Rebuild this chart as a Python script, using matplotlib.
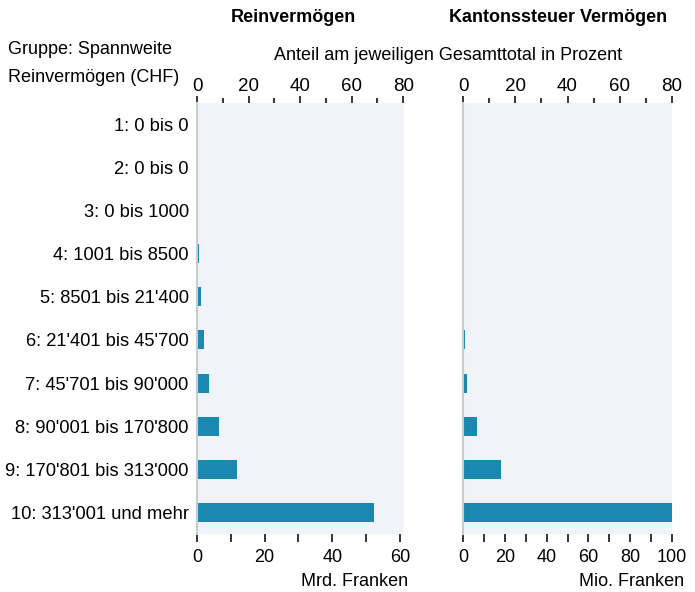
import numpy as np
import matplotlib.pyplot as plt

plt.rcParams['font.family'] = ['Liberation Sans', 'DejaVu Sans']
plt.rcParams['font.size'] = 13

gruppen = ["1: 0 bis 0", "2: 0 bis 0", "3: 0 bis 1000", "4: 1001 bis 8500",
           "5: 8501 bis 21'400", "6: 21'401 bis 45'700", "7: 45'701 bis 90'000",
           "8: 90'001 bis 170'800", "9: 170'801 bis 313'000", "10: 313'001 und mehr"]

# Reinvermögen in Mrd. Franken
reinvermoegen = [0.03, 0.03, 0.05, 0.7, 1.27, 2.15, 3.63, 6.58, 11.9, 52.3]
total_rein = 76.2
# Kantonssteuer Vermögen in Mio. Franken
steuer = [0.0, 0.0, 0.0, 0.0, 0.1, 0.8, 1.8, 6.6, 18.1, 100.0]
total_steuer = 125.0

bar_col = '#1a88b1'
bg_col = '#f0f4f8'

fig = plt.figure(figsize=(6.95, 5.92), dpi=100)
ax1 = fig.add_axes([0.2835, 0.098, 0.2978, 0.7285])
ax2 = fig.add_axes([0.6662, 0.098, 0.3007, 0.7285])

y = np.arange(len(gruppen))


def style(ax, values, total, xmax, major, minor, unit, lab_x):
    ax.set_facecolor(bg_col)
    ax.barh(y, values, height=0.44, color=bar_col)
    ax.set_xlim(0, xmax)
    ax.set_ylim(len(gruppen) - 0.5, -0.5)
    for s in ['top', 'right', 'bottom']:
        ax.spines[s].set_visible(False)
    ax.spines['left'].set_color('#cccccc')
    ax.spines['left'].set_linewidth(1.5)
    ax.set_xticks(major)
    ax.set_xticks(minor, minor=True)
    ax.tick_params(axis='x', which='both', length=5.5, width=1.1, pad=5)
    ax.tick_params(axis='y', length=0, pad=6)
    ax.set_xlabel(unit, ha='right', va='center')
    ax.xaxis.set_label_coords(lab_x, -0.111)

    # obere Achse: Anteil am Gesamttotal in Prozent
    sec = ax.secondary_xaxis('top', functions=(lambda v: v / total * 100,
                                               lambda p: p * total / 100))
    sec.set_xticks(np.arange(0, 81, 20))
    sec.set_xticks(np.arange(10, 80, 20), minor=True)
    sec.tick_params(axis='x', which='major', length=5, width=1.1, pad=0.5)
    sec.tick_params(axis='x', which='minor', length=3.5, width=1.1)
    sec.tick_params(axis='x', which='major', labelsize=13.5)
    sec.spines['top'].set_visible(False)


style(ax1, reinvermoegen, total_rein, 61.2, np.arange(0, 61, 20),
      np.arange(10, 60, 20), 'Mrd. Franken', 1.02)
ax1.set_yticks(y)
ax1.set_yticklabels(gruppen, fontsize=13.2)

style(ax2, steuer, total_steuer, 100, np.arange(0, 101, 20),
      np.arange(10, 100, 20), 'Mio. Franken', 1.057)
ax2.set_yticks([])

fig.text(293 / 695, 1 - 18 / 592, 'Reinvermögen', ha='center', va='center',
         fontweight='bold')
fig.text(558 / 695, 1 - 18 / 592, 'Kantonssteuer Vermögen', ha='center',
         va='center', fontweight='bold')
fig.text(448 / 695, 1 - 56 / 592, 'Anteil am jeweiligen Gesamttotal in Prozent',
         ha='center', va='center')
fig.text(8 / 695, 1 - 50 / 592, 'Gruppe: Spannweite', ha='left', va='center')
fig.text(8 / 695, 1 - 77 / 592, 'Reinvermögen (CHF)', ha='left', va='center')

fig.savefig('out.png', dpi=100)
